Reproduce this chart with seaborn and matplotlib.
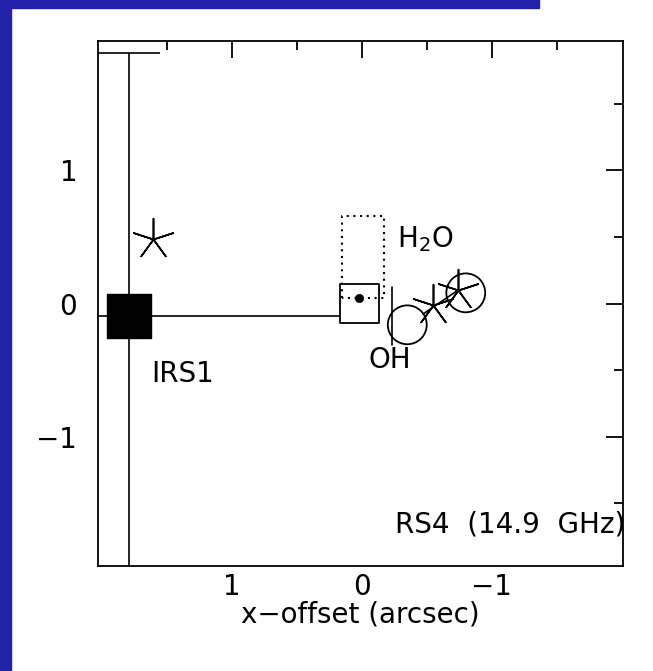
import matplotlib
matplotlib.use("Agg")
import matplotlib.pyplot as plt
from matplotlib.patches import Rectangle
from matplotlib.ticker import FixedLocator
import seaborn as sns

# IRS1 continuum peak and its positional uncertainty
irs1_x = [1.79]
irs1_y = [-0.094]
irs1_yerr_down = [3.0]
irs1_yerr_up = [1.974]
irs1_xerr_low = [1.62]    # towards smaller x (to the right on this inverted axis)
irs1_xerr_high = [3.0]

# RS4 radio source at 14.9 GHz
rs4_x = [0.02]
rs4_y = [0.0]

# H2O maser position and its uncertainty box
h2o_x = [0.02]
h2o_y = [0.04]
h2o_box_x = [0.15, -0.17]
h2o_box_y = [0.04, 0.66]

# OH maser spots
oh_x = [-0.35, -0.80]
oh_y = [-0.16, 0.08]
oh_bar_x = [-0.23, -0.23]
oh_bar_y = [0.125, -0.31]

# stellar / infrared sources
star_x = [1.61, -0.55, -0.74]
star_y = [0.485, -0.01, 0.10]

# connection between the western sources
link_x = [-0.47, -0.74]
link_y = [-0.08, 0.10]

xticks = [1, 0, -1]
xtick_labels = ["1", "0", "\u22121"]
yticks = [1, 0, -1]
ytick_labels = ["1", "0", "\u22121"]
minor_ticks = [1.5, 0.5, -0.5, -1.5]

sns.set_theme(style="white")
plt.rcParams["font.family"] = ["DejaVu Sans"]

W, H = 653, 671
fig = plt.figure(figsize=(W / 100, H / 100), dpi=100)
fig.patch.set_facecolor("white")
blue = "#2121a9"
fig.add_artist(Rectangle((0, 0), 11 / W, 1, transform=fig.transFigure,
                         color=blue, zorder=0))
fig.add_artist(Rectangle((0, 1 - 8 / H), 539 / W, 8 / H, transform=fig.transFigure,
                         color=blue, zorder=0))

ax = fig.add_axes([98 / W, 105 / H, 525 / W, 525 / H])
ax.set_facecolor("white")

lw = 1.2
ink = "black"

# IRS1 error bars
ax.errorbar(irs1_x, irs1_y, yerr=[irs1_yerr_down, irs1_yerr_up], fmt="none",
            ecolor=ink, elinewidth=lw, capsize=22, capthick=lw, zorder=2)
ax.errorbar(irs1_x, irs1_y, xerr=[irs1_xerr_low, irs1_xerr_high], fmt="none",
            ecolor=ink, elinewidth=lw, capsize=0, zorder=2)

# H2O uncertainty box (dotted)
bx = [h2o_box_x[0], h2o_box_x[0], h2o_box_x[1], h2o_box_x[1], h2o_box_x[0]]
by = [h2o_box_y[0], h2o_box_y[1], h2o_box_y[1], h2o_box_y[0], h2o_box_y[0]]
ax.plot(bx, by, color=ink, lw=1.5, linestyle=(0, (1, 2.2)), zorder=2)

# OH bar and link line
ax.plot(oh_bar_x, oh_bar_y, color=ink, lw=lw, zorder=2)
ax.plot(link_x, link_y, color=ink, lw=lw, zorder=2)

# markers
sns.scatterplot(x=irs1_x, y=irs1_y, marker="s", s=31 ** 2, color=ink,
                edgecolor=ink, linewidth=1, ax=ax, zorder=3)
sns.scatterplot(x=rs4_x, y=rs4_y, marker="s", s=28 ** 2, facecolor="none",
                edgecolor=ink, linewidth=1.3, ax=ax, zorder=3)
sns.scatterplot(x=h2o_x, y=h2o_y, marker="o", s=6 ** 2, color=ink,
                edgecolor=ink, ax=ax, zorder=4)
sns.scatterplot(x=oh_x, y=oh_y, marker="o", s=28 ** 2, facecolor="none",
                edgecolor=ink, linewidth=1.3, ax=ax, zorder=3)
sns.scatterplot(x=star_x, y=star_y, marker=(5, 2, 0), s=30 ** 2, color=ink,
                linewidth=1.2, ax=ax, zorder=3)

fs = 20
ax.text(1.62, -0.59, "IRS1", fontsize=fs, ha="left", va="baseline", color=ink)
ax.text(-0.27, 0.42, "H$_2$O", fontsize=fs, ha="left", va="baseline", color=ink)
ax.text(-0.05, -0.485, "OH", fontsize=fs, ha="left", va="baseline", color=ink)
ax.text(-2.03, -1.72, "RS4  (14.9  GHz)", fontsize=fs, ha="right", va="baseline",
        color=ink)

ax.set_xlim(2.03, -2.01)
ax.set_ylim(-1.97, 1.97)
ax.set_xticks(xticks, labels=xtick_labels)
ax.set_yticks(yticks, labels=ytick_labels)
ax.xaxis.set_minor_locator(FixedLocator(minor_ticks))
ax.yaxis.set_minor_locator(FixedLocator(minor_ticks))
ax.tick_params(which="both", direction="in", top=True, right=True,
               color=ink, width=1.3, labelsize=fs, labelcolor=ink)
ax.tick_params(which="major", length=12)
ax.tick_params(which="minor", length=6.5)
ax.tick_params(axis="x", pad=5)
ax.tick_params(axis="y", pad=15)
ax.set_xlabel("x\u2212offset (arcsec)", fontsize=fs, color=ink, labelpad=0)
for sp in ax.spines.values():
    sp.set_color(ink)
    sp.set_linewidth(1.3)
    sp.set_visible(True)

fig.savefig("out.png", dpi=100, facecolor="white")
